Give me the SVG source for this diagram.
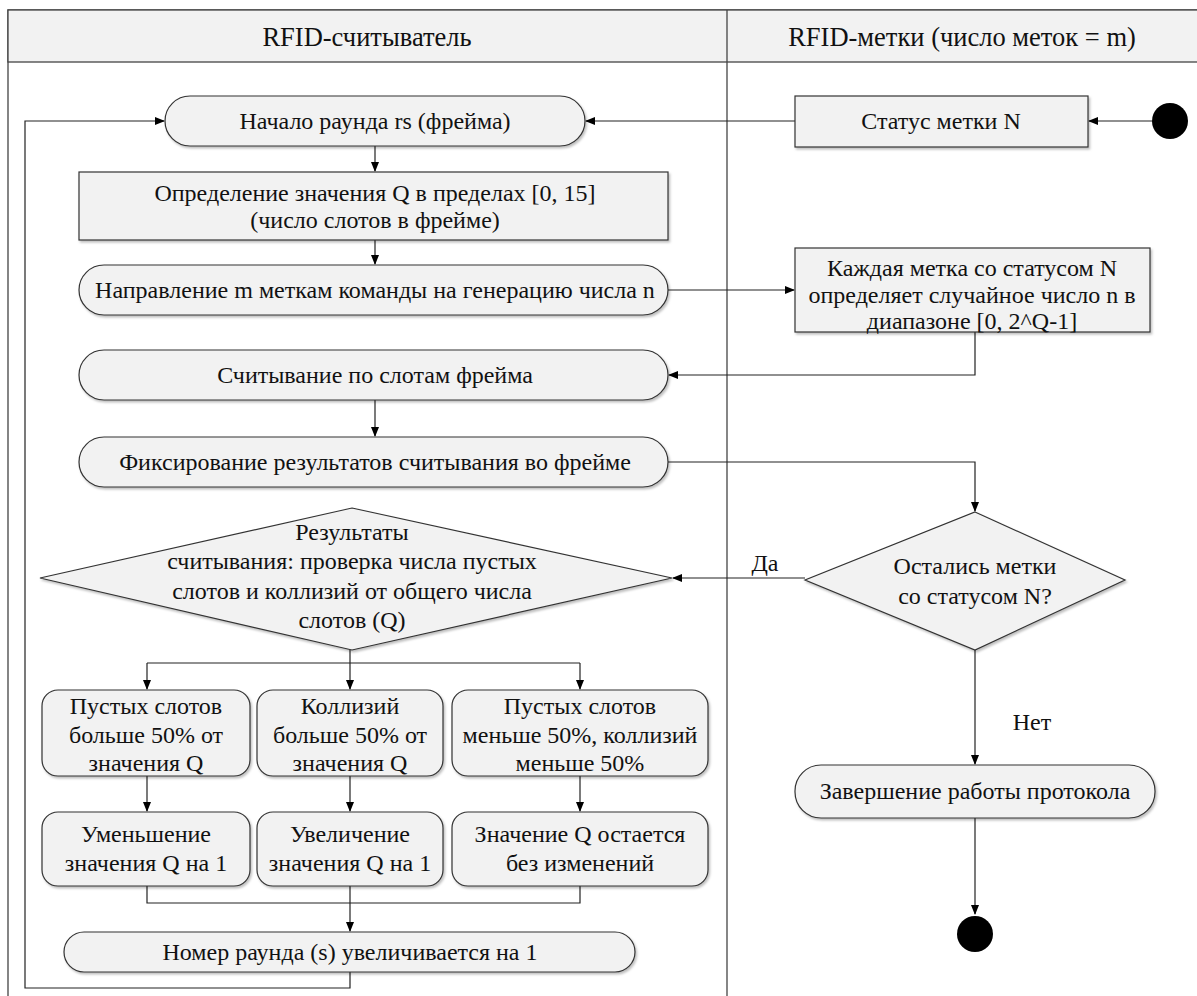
<svg xmlns="http://www.w3.org/2000/svg" width="1197" height="996" viewBox="0 0 1197 996">
<defs>
<marker id="ah" markerWidth="10" markerHeight="8" refX="9" refY="4" orient="auto" markerUnits="userSpaceOnUse"><path d="M0,0 L10,4 L0,8 Z" fill="#000"/></marker>
<filter id="sh" x="-5%" y="-5%" width="110%" height="120%"><feDropShadow dx="1.5" dy="2" stdDeviation="1.2" flood-color="#000" flood-opacity="0.25"/></filter>
<style>
.n{fill:#f2f2f2;stroke:#333;stroke-width:1.2;filter:url(#sh)}
.t{font-family:"Liberation Serif","Times New Roman",serif;font-size:24px;fill:#111;text-anchor:middle;dominant-baseline:central}
.h{font-size:26.5px}
.c{fill:none;stroke:#222;stroke-width:1.2}
.a{marker-end:url(#ah)}
.lane{fill:#fff;stroke:#444;stroke-width:1.3}
.hdr{fill:#f2f2f2;stroke:#444;stroke-width:1.3}
</style>
</defs>
<rect width="1197" height="996" fill="#fff"/>
<g id="swimlanes">
<rect class="lane" x="8" y="10" width="1200" height="1000"/>
<rect class="hdr" x="8" y="10" width="1200" height="52"/>
<line x1="727" y1="10" x2="727" y2="996" stroke="#444" stroke-width="1.3"/>
<text class="t h" x="367" y="37">RFID-считыватель</text>
<text class="t h" x="962" y="37">RFID-метки (число меток = m)</text>
</g>
<g id="connectors">
<path class="c a" d="M350,972 V988 H25 V121 H164"/>
<path class="c a" d="M795,121 H586"/>
<path class="c a" d="M1152,121 H1089"/>
<path class="c a" d="M375,146 V171"/>
<path class="c a" d="M375,240 V264"/>
<path class="c a" d="M668,290 H794"/>
<path class="c a" d="M975,332 V375 H669"/>
<path class="c a" d="M375,400 V436"/>
<path class="c a" d="M668,462 H975 V511"/>
<path class="c a" d="M805,578 H673"/>
<text class="t" x="765" y="563">Да</text>
<path class="c a" d="M975,650 V764"/>
<text class="t" x="1032" y="722">Нет</text>
<path class="c a" d="M975,818 V914"/>
<path class="c" d="M350,650 V663"/>
<path class="c" d="M147,663 H580"/>
<path class="c a" d="M147,663 V689"/>
<path class="c a" d="M350,663 V689"/>
<path class="c a" d="M580,663 V689"/>
<path class="c a" d="M147,776 V811"/>
<path class="c a" d="M350,776 V811"/>
<path class="c a" d="M580,776 V811"/>
<path class="c" d="M147,886 V903 H580 V886"/>
<path class="c a" d="M350,886 V931"/>
</g>
<g id="start">
<circle cx="1170" cy="121" r="18" fill="#000"/>
</g>
<g id="status-n">
<rect class="n" x="795" y="96" width="293" height="51"/>
<text class="t" x="941" y="121">Статус метки N</text>
</g>
<g id="round-start">
<rect class="n" x="165" y="96" width="420" height="50" rx="25"/>
<text class="t" x="375" y="121">Начало раунда rs (фрейма)</text>
</g>
<g id="define-q">
<rect class="n" x="79" y="172" width="589" height="68"/>
<text class="t" x="375" y="193">Определение значения Q в пределах [0, 15]</text>
<text class="t" x="375" y="220">(число слотов в фрейме)</text>
</g>
<g id="send-command">
<rect class="n" x="79" y="265" width="589" height="50" rx="25"/>
<text class="t" x="375" y="290">Направление m меткам команды на генерацию числа n</text>
</g>
<g id="tags-generate">
<rect class="n" x="795" y="248" width="355" height="84"/>
<text class="t" x="972" y="268">Каждая метка со статусом N</text>
<text class="t" x="972" y="295">определяет случайное число n в</text>
<text class="t" x="972" y="321">диапазоне [0, 2^Q-1]</text>
</g>
<g id="read-slots">
<rect class="n" x="79" y="350" width="589" height="50" rx="25"/>
<text class="t" x="375" y="375">Считывание по слотам фрейма</text>
</g>
<g id="fix-results">
<rect class="n" x="79" y="437" width="589" height="50" rx="25"/>
<text class="t" x="375" y="462">Фиксирование результатов считывания во фрейме</text>
</g>
<g id="check-results">
<polygon class="n" points="352,508 672,578 352,650 40,578"/>
<text class="t" x="352" y="532">Результаты</text>
<text class="t" x="352" y="561">считывания: проверка числа пустых</text>
<text class="t" x="352" y="591">слотов и коллизий от общего числа</text>
<text class="t" x="352" y="620">слотов (Q)</text>
</g>
<g id="tags-left">
<polygon class="n" points="975,512 1125,580 975,650 805,580"/>
<text class="t" x="975" y="566">Остались метки</text>
<text class="t" x="975" y="596">со статусом N?</text>
</g>
<g id="empty-more">
<rect class="n" x="42" y="690" width="208" height="86" rx="16"/>
<text class="t" x="146" y="706">Пустых слотов</text>
<text class="t" x="146" y="735">больше 50% от</text>
<text class="t" x="146" y="763">значения Q</text>
</g>
<g id="coll-more">
<rect class="n" x="257" y="690" width="186" height="86" rx="16"/>
<text class="t" x="350" y="706">Коллизий</text>
<text class="t" x="350" y="735">больше 50% от</text>
<text class="t" x="350" y="763">значения Q</text>
</g>
<g id="both-less">
<rect class="n" x="452" y="690" width="256" height="86" rx="16"/>
<text class="t" x="580" y="706">Пустых слотов</text>
<text class="t" x="580" y="735">меньше 50%, коллизий</text>
<text class="t" x="580" y="763">меньше 50%</text>
</g>
<g id="dec-q">
<rect class="n" x="42" y="812" width="208" height="74" rx="16"/>
<text class="t" x="146" y="834">Уменьшение</text>
<text class="t" x="146" y="863">значения Q на 1</text>
</g>
<g id="inc-q">
<rect class="n" x="257" y="812" width="186" height="74" rx="16"/>
<text class="t" x="350" y="834">Увеличение</text>
<text class="t" x="350" y="863">значения Q на 1</text>
</g>
<g id="keep-q">
<rect class="n" x="452" y="812" width="256" height="74" rx="16"/>
<text class="t" x="580" y="834">Значение Q остается</text>
<text class="t" x="580" y="863">без изменений</text>
</g>
<g id="round-inc">
<rect class="n" x="64" y="932" width="571" height="40" rx="20"/>
<text class="t" x="350" y="952">Номер раунда (s) увеличивается на 1</text>
</g>
<g id="finish">
<rect class="n" x="795" y="765" width="360" height="53" rx="26"/>
<text class="t" x="975" y="791">Завершение работы протокола</text>
</g>
<g id="end">
<circle cx="975" cy="934" r="18" fill="#000"/>
</g>
</svg>
